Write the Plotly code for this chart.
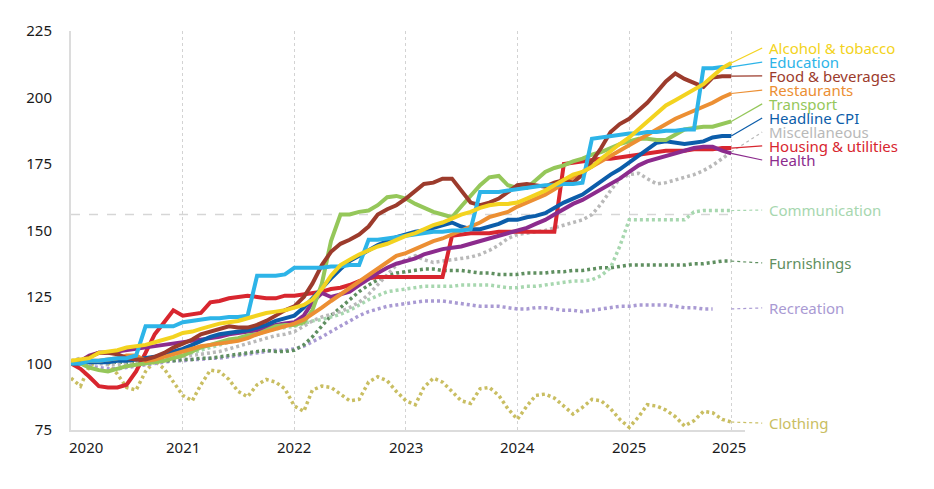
import pandas as pd
import plotly.graph_objects as go

# monthly index, Jan 2020 = 100
months = pd.date_range("2020-01-01", "2025-12-01", freq="MS")

alcohol_tobacco = [101, 101.5, 102, 104, 104.5, 105, 106, 106.5, 107, 108, 109, 110,
                   111.5, 112, 113, 114, 115, 115.5, 116, 117, 118, 119, 119.5, 120,
                   121, 122, 124, 128, 133, 137, 139, 141, 142.5, 144, 145, 146.5,
                   148, 149, 150.5, 152, 153, 154.5, 156, 157, 158.5, 159.5, 160, 160,
                   160.5, 162, 163.5, 165, 167, 169, 171, 172, 174, 177, 180, 182.5,
                   185, 188, 191, 194, 197, 199, 201, 203, 205, 208, 211, 213]
education = [100, 100, 101, 101, 101.5, 102, 102, 103, 114, 114, 114, 114,
             115.5, 116, 116.5, 117, 117, 117.5, 117.5, 118, 133, 133, 133, 133.5,
             136, 136, 136, 136, 136.5, 136.5, 137, 137, 146.5, 146.5, 147, 147.5,
             148, 148.5, 149, 149.5, 149.5, 150, 150, 150.5, 164.5, 164.5, 164.5, 165,
             165.5, 166, 166.5, 167, 167, 167.5, 167.5, 168, 184.5, 185, 185.5, 186,
             186.5, 186.5, 187, 187, 187.5, 187.5, 188, 188, 211, 211, 211.5, 211.5]
food_beverages = [100, 101, 102.5, 104, 104, 103.5, 102, 101.5, 101.5, 102.5, 104, 106,
                  107.5, 109, 111, 112, 113, 114, 113.5, 113.5, 114.5, 116, 118, 120,
                  121.5, 125, 130, 137, 142, 145, 146.5, 148.5, 151.5, 156, 158, 159.5,
                  162, 165, 167.5, 168, 169.5, 169.5, 165, 160.5, 159.5, 160.5, 162, 164.5,
                  167, 167.5, 167, 166.5, 168, 169, 168, 171, 176, 181, 187, 190,
                  192, 195, 198, 202, 206, 209, 207, 205.5, 204, 207.5, 208, 208]
restaurants = [100, 100.5, 101, 101, 101.5, 102, 103, 103, 101, 101.5, 102.5, 103.5,
               104.5, 105.5, 106.5, 107, 107.5, 108, 108.5, 109.5, 111, 112, 113, 114,
               115, 116.5, 118.5, 121, 123.5, 126, 128.5, 131, 133.5, 136, 138.5, 140.5,
               141.5, 143, 144.5, 146, 147, 148.5, 150, 151.5, 153, 155, 156, 157,
               159, 160.5, 162, 163.5, 165.5, 168, 170, 172, 174, 176, 178, 180,
               182, 184, 186, 188, 190, 192, 193.5, 195, 196.5, 198, 200, 201.5]
transport = [101, 100, 98.5, 97.5, 97, 98, 99, 99.5, 100, 100.5, 101, 102,
             103, 104.5, 106, 107, 108, 109, 109.5, 110.5, 111, 112.5, 114, 114.5,
             114.5, 115.5, 120, 130, 146, 156, 156, 157, 157.5, 159.5, 162.5, 163,
             162, 160, 158.5, 157, 156, 155, 159, 163, 167, 170, 170.5, 167,
             166, 166, 169, 172, 173.5, 174.5, 176, 177, 178.5, 179.5, 181, 182.5,
             183.5, 184.5, 184.5, 184, 184, 186, 188, 188.5, 189, 189, 190, 191]
headline_cpi = [100, 100, 100.5, 100.5, 100.5, 101, 101, 101.5, 102, 102.5, 103.5, 104.5,
                105.5, 107, 108.5, 110, 111, 111.5, 112, 112.5, 113.5, 114.5, 116, 117,
                118, 121, 124.5, 128.5, 132, 135.5, 138.5, 140.5, 142.5, 144.5, 146, 147.5,
                148.5, 149.5, 150, 151, 152, 153, 151.5, 150.5, 150.5, 151.5, 152.5, 154,
                154, 155, 155.5, 156.5, 158.5, 160.5, 162, 163.5, 166, 168.5, 171, 173,
                175.5, 178, 180.5, 183, 183.5, 183, 182.5, 183, 183.5, 185, 185.5, 185.5]
miscellaneous = [101, 102, 101, 100, 99.5, 99.5, 100, 100.5, 101, 101, 101.5, 102,
                 102.5, 103, 103.5, 104, 104.5, 105.5, 106.5, 107.5, 108.5, 109.5, 110.5, 111,
                 112, 114, 116, 117.5, 118.5, 119.5, 121, 123, 126, 129.5, 133.5, 137,
                 139, 140.5, 139, 138, 138.5, 139, 139.5, 140, 141, 142.5, 144.5, 147,
                 148.5, 149, 149.5, 150, 151, 152, 153, 154, 156, 160, 165, 169.5,
                 171, 171.5, 169.5, 167.5, 168, 169, 170, 171, 172.5, 174.5, 177, 179.5]
housing_utilities = [100, 98, 95, 91.5, 91, 91, 92, 97, 104, 111, 115.5, 120,
                     118, 118.5, 119, 123, 123.5, 124.5, 125, 125.5, 125, 124.5, 124.5, 125.5,
                     125.5, 126, 126.5, 127, 128, 128.5, 129.5, 131, 132, 132.5, 132.5, 132.5,
                     132.5, 132.5, 132.5, 132.5, 132.5, 148, 148.5, 149, 149, 149, 149.5, 149.5,
                     149.5, 149.5, 149.5, 149.5, 149.5, 175, 175.5, 176, 176.5, 177, 177, 177.5,
                     178, 178.5, 179, 179.5, 180, 180, 180, 180.5, 180.5, 180.5, 181, 181]
health = [100, 101, 103, 104, 104, 104.5, 105, 105.5, 106, 106.5, 107, 107.5,
          108, 108.5, 109, 109.5, 110, 111, 111.5, 112, 112.5, 113.5, 114.5, 115,
          115.5, 118, 123, 126.5, 125, 126, 127, 129.5, 132, 134, 136, 137.5,
          138.5, 139.5, 141, 142, 143, 143.5, 144, 145, 146, 147, 148, 149,
          150, 151, 152.5, 154, 156, 158, 160, 161.5, 163.5, 165.5, 167.5, 169.5,
          172, 174.5, 176, 177, 178, 179, 180, 181, 181.5, 181.5, 180, 179]
communication = [101, 101.5, 101, 100.5, 100.5, 101, 101, 101.5, 102, 102, 102.5, 103,
                 103.5, 104, 105, 106, 107, 108, 109, 110, 111, 112, 113, 113.5,
                 114, 115, 116, 116.5, 117.5, 118.5, 120, 122, 124, 125.5, 127, 127.5,
                 128, 128.5, 129, 129, 129, 129, 129.5, 129.5, 129.5, 129.5, 129, 128.5,
                 128.5, 129, 129, 129.5, 130, 130.5, 131, 131, 131.5, 133, 136, 144,
                 154, 154, 154, 154, 154, 154, 154, 157, 157.5, 157.5, 157.5, 157.5]
furnishings = [100, 100.5, 100.5, 100.5, 100.5, 100.5, 100.5, 100.5, 101, 101, 101, 101,
               101.5, 101.5, 102, 102, 102.5, 103, 103.5, 104, 104.5, 105, 104.5, 104.5,
               105, 107, 110, 114, 118, 121, 124, 127, 129.5, 131.5, 133, 134,
               134.5, 135, 135.5, 135.5, 135, 135, 135, 134.5, 134, 134, 133.5, 133.5,
               133.5, 134, 134, 134, 134.5, 134.5, 135, 135, 135.5, 136, 136, 136.5,
               137, 137, 137, 137, 137, 137, 137, 137.5, 137.5, 138, 138.5, 138.5]
recreation = [100, 99.5, 99, 98.5, 98, 98, 98.5, 99, 99.5, 100, 100.5, 101,
              101, 101.5, 101.5, 102, 102, 102.5, 103, 103.5, 104, 104.5, 105, 105,
              105.5, 106.5, 108, 110, 112, 114, 116, 118, 119.5, 120.5, 121.5, 122,
              122.5, 123, 123.5, 123.5, 123.5, 123, 122.5, 122, 121.5, 121.5, 121.5, 121,
              120.5, 120.5, 121, 121, 120.5, 120, 120, 119.5, 120, 120.5, 121, 121.5,
              121.5, 122, 122, 122, 122, 121.5, 121, 121, 120.5, 120.5, None, None]
clothing = [94.5, 91.5, 99, 101, 100, 96, 91, 90, 97, 101, 98, 93,
            88, 86, 92, 97.5, 97, 94, 89.5, 87.5, 92, 94, 93, 90.5,
            84, 82, 90, 91.5, 91, 88.5, 86, 86.5, 93, 95, 93.5, 89.5,
            86, 84.5, 91, 94.5, 93, 89.5, 86, 85, 90.5, 91, 88, 83,
            79, 84, 88, 88.5, 87, 84, 81, 83.5, 86.5, 86, 83, 79,
            76, 80, 84.5, 84, 82.5, 80, 76.5, 78.5, 82, 81.5, 79, 78]

reference_level = 156

tick_dates = ["2021-01-01", "2022-01-01", "2023-01-01", "2024-01-01",
              "2025-01-01", "2025-12-01"]
tick_label_dates = ["2020-02-20", "2021-01-01", "2022-01-01", "2023-01-01",
                    "2024-01-01", "2025-01-01", "2025-11-22"]
tick_labels = ["2020", "2021", "2022", "2023", "2024", "2025", "2025"]

# name, values, colour, dotted, label height (in index units)
series = [
    ("Clothing", clothing, "#C9BE62", True, 77.6),
    ("Recreation", recreation, "#A99AD3", True, 120.9),
    ("Furnishings", furnishings, "#5F8F60", True, 137.8),
    ("Communication", communication, "#A7D7AF", True, 157.7),
    ("Miscellaneous", miscellaneous, "#B9B9B9", True, 187.0),
    ("Housing & utilities", housing_utilities, "#D8262F", False, 181.8),
    ("Health", health, "#8C2B8D", False, 176.5),
    ("Headline CPI", headline_cpi, "#0C5DAA", False, 192.3),
    ("Transport", transport, "#95C75A", False, 197.6),
    ("Restaurants", restaurants, "#EC8F33", False, 202.8),
    ("Food & beverages", food_beverages, "#9C3B2C", False, 208.1),
    ("Education", education, "#2DB4E8", False, 213.3),
    ("Alcohol & tobacco", alcohol_tobacco, "#F3D320", False, 218.6),
]

x_start = pd.Timestamp("2020-01-01")
x_end = pd.Timestamp("2026-01-15")


def to_paper(date):
    return (pd.Timestamp(date) - x_start) / (x_end - x_start)


fig = go.Figure()

fig.add_shape(type="line", xref="x", yref="y",
              x0=months[0], x1=months[-1], y0=reference_level, y1=reference_level,
              line=dict(color="#D6D6D6", width=1.5, dash="dash"), layer="below")

line_end = to_paper(months[-1])
for name, values, color, dotted, label_y in series:
    if dotted:
        line = dict(color=color, width=3.5, dash="3px,3px")
    else:
        line = dict(color=color, width=4)
    fig.add_trace(go.Scatter(x=months, y=values, mode="lines", name=name,
                             line=line, showlegend=False, hoverinfo="x+y+name"))
    last = [v for v in values if v is not None][-1]
    fig.add_shape(type="line", xref="paper", yref="y",
                  x0=line_end, x1=1.0255, y0=last, y1=label_y,
                  line=dict(color=color, width=1.2, dash="dot" if dotted else "solid"))
    fig.add_annotation(xref="paper", yref="y", x=1.033, y=label_y, text=name,
                       showarrow=False, xanchor="left", yanchor="middle",
                       font=dict(size=15, color=color))

for d, t in zip(tick_label_dates, tick_labels):
    fig.add_annotation(xref="x", yref="paper", x=d, y=0, yshift=-17, text=t,
                       showarrow=False, xanchor="center", yanchor="middle",
                       font=dict(size=15, color="#1A1A1A"))

# the page body adds an 8px margin, so the figure is shifted up/left by that much
fig.update_layout(
    width=926, height=481,
    margin=dict(l=63, r=189, t=22.5, b=58.5),
    paper_bgcolor="white", plot_bgcolor="white",
    font=dict(family="'Noto Sans', Lato, sans-serif", size=15, color="#1A1A1A"),
    xaxis=dict(type="date", range=[x_start, x_end], tickvals=tick_dates,
               showticklabels=False, showgrid=True, gridcolor="#D3D3D3",
               griddash="dot", gridwidth=1, showline=True, linecolor="#DCDCDC",
               linewidth=2, zeroline=False, ticks=""),
    yaxis=dict(range=[75, 225], tickvals=[75, 100, 125, 150, 175, 200, 225],
               showgrid=False, showline=True, linecolor="#DCDCDC", linewidth=2,
               zeroline=False, ticks="outside", ticklen=14,
               tickcolor="rgba(0,0,0,0)", tickfont=dict(size=15, color="#1A1A1A")),
)

fig.write_html("out.html")
